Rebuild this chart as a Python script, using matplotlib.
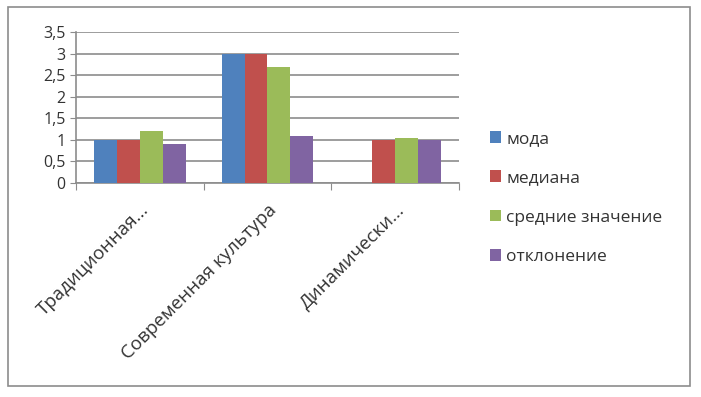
import matplotlib.pyplot as plt
import numpy as np
from matplotlib.patches import Rectangle
from matplotlib.ticker import FuncFormatter

plt.rcParams["font.family"] = ["Open Sans", "DejaVu Sans"]

categories = ["Традиционная...", "Современная культура", "Динамически..."]
series_names = ["мода", "медиана", "средние значение", "отклонение"]
moda = [1.0, 3.0, np.nan]
mediana = [1.0, 3.0, 1.0]
srednee = [1.2, 2.7, 1.05]
otklonenie = [0.9, 1.1, 1.0]
colors = ["#4F81BD", "#C0504D", "#9BBB59", "#8064A2"]

fig = plt.figure(figsize=(7.01, 3.97), dpi=100)
fig.patches.append(Rectangle((8 / 701, 11 / 397), 682 / 701, 379 / 397,
                             transform=fig.transFigure, fill=False,
                             edgecolor="#8c8c8c", linewidth=1.2))

ax = fig.add_axes([76 / 701, 1 - 183 / 397, 383 / 701, 151 / 397])
x = np.arange(len(categories))
width = 0.18
for i, (vals, name) in enumerate(zip([moda, mediana, srednee, otklonenie], series_names)):
    ax.bar(x + (i - 1.5) * width, vals, width, color=colors[i], label=name, zorder=3)

ax.set_xlim(-0.5, 2.5)
ax.set_ylim(0, 3.5)
ax.set_yticks(np.arange(0, 3.51, 0.5))
ax.yaxis.set_major_formatter(FuncFormatter(lambda v, p: f"{v:g}".replace(".", ",")))
ax.grid(axis="y", color="#8c8c8c", linewidth=1.2, zorder=0)
for s in ["top", "right"]:
    ax.spines[s].set_visible(False)
for s in ["left", "bottom"]:
    ax.spines[s].set_color("#8c8c8c")
    ax.spines[s].set_linewidth(1.2)

ax.set_xticks([-0.5, 0.5, 1.5, 2.5], minor=False)
ax.set_xticklabels([])
ax.tick_params(axis="x", length=5, color="#8c8c8c", direction="out")
ax.set_xticks(x, minor=True)
ax.set_xticklabels(categories, minor=True, rotation=45, ha="right",
                   rotation_mode="anchor", fontsize=13.5, color="#333333")
ax.tick_params(axis="x", which="minor", length=0, pad=13)
ax.tick_params(axis="y", length=4, color="#8c8c8c", labelsize=11.5, labelcolor="#333333")

fig.legend(*ax.get_legend_handles_labels(), loc="center left",
           bbox_to_anchor=(490 / 701, 1 - 198 / 397), frameon=False,
           handlelength=0.65, handleheight=0.65, handletextpad=0.3,
           labelspacing=1.35, fontsize=12.5, labelcolor="#333333",
           borderaxespad=0, borderpad=0)

fig.savefig("out.png", dpi=100)
